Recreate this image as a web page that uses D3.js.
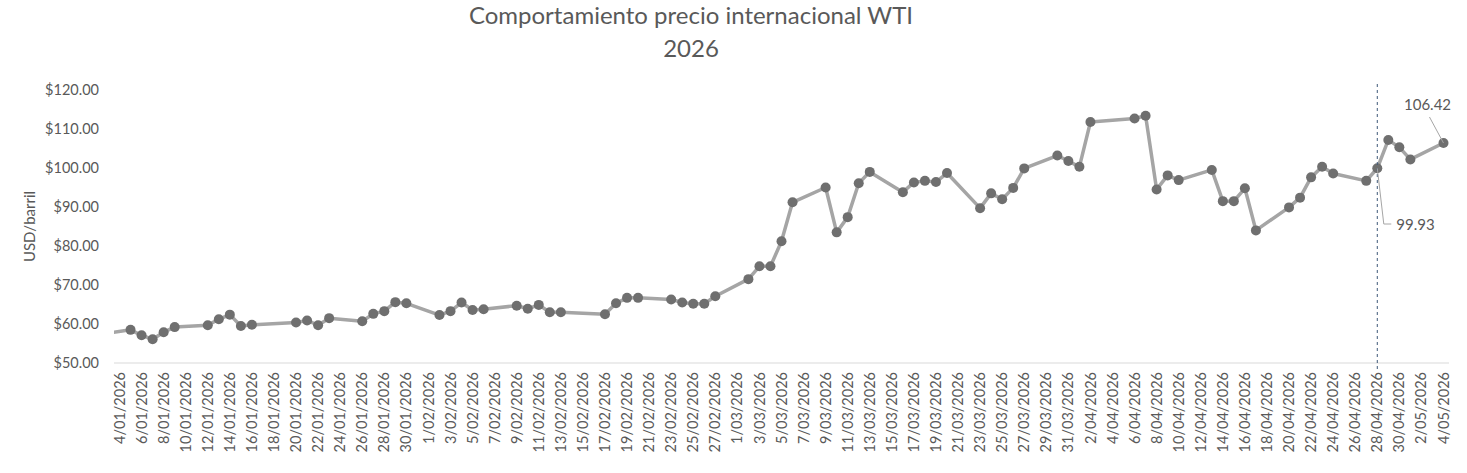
<!DOCTYPE html>
<html>
<head>
<meta charset="utf-8">
<script src="https://cdn.jsdelivr.net/npm/d3@7"></script>
<style>
  html, body { margin: 0; padding: 0; background: #fff; }
  svg text { font-family: Lato, "Open Sans", sans-serif; fill: #595959; }
</style>
</head>
<body>
<svg id="chart" width="1467" height="473"></svg>
<script>
// WTI daily closes (USD/barril), trading days only
const dates = [
  "2026-01-02", "2026-01-05", "2026-01-06", "2026-01-07", "2026-01-08", "2026-01-09",
  "2026-01-12", "2026-01-13", "2026-01-14", "2026-01-15", "2026-01-16",
  "2026-01-20", "2026-01-21", "2026-01-22", "2026-01-23",
  "2026-01-26", "2026-01-27", "2026-01-28", "2026-01-29", "2026-01-30",
  "2026-02-02", "2026-02-03", "2026-02-04", "2026-02-05", "2026-02-06",
  "2026-02-09", "2026-02-10", "2026-02-11", "2026-02-12", "2026-02-13",
  "2026-02-17", "2026-02-18", "2026-02-19", "2026-02-20",
  "2026-02-23", "2026-02-24", "2026-02-25", "2026-02-26", "2026-02-27",
  "2026-03-02", "2026-03-03", "2026-03-04", "2026-03-05", "2026-03-06",
  "2026-03-09", "2026-03-10", "2026-03-11", "2026-03-12", "2026-03-13",
  "2026-03-16", "2026-03-17", "2026-03-18", "2026-03-19", "2026-03-20",
  "2026-03-23", "2026-03-24", "2026-03-25", "2026-03-26", "2026-03-27",
  "2026-03-30", "2026-03-31", "2026-04-01", "2026-04-02",
  "2026-04-06", "2026-04-07", "2026-04-08", "2026-04-09", "2026-04-10",
  "2026-04-13", "2026-04-14", "2026-04-15", "2026-04-16", "2026-04-17",
  "2026-04-20", "2026-04-21", "2026-04-22", "2026-04-23", "2026-04-24",
  "2026-04-27", "2026-04-28", "2026-04-29", "2026-04-30", "2026-05-01",
  "2026-05-04"
];
const prices = [
  57.3, 58.5, 57.1, 56.1, 57.9, 59.2,
  59.7, 61.2, 62.4, 59.5, 59.8,
  60.4, 60.9, 59.7, 61.5,
  60.7, 62.6, 63.3, 65.6, 65.3,
  62.3, 63.3, 65.5, 63.6, 63.8,
  64.7, 63.9, 64.9, 63.0, 63.0,
  62.5, 65.3, 66.7, 66.7,
  66.3, 65.5, 65.2, 65.2, 67.1,
  71.5, 74.8, 74.8, 81.2, 91.2,
  95.0, 83.5, 87.4, 96.1, 99.0,
  93.8, 96.3, 96.7, 96.4, 98.7,
  89.7, 93.5, 92.0, 94.9, 99.9,
  103.2, 101.8, 100.3, 111.8,
  112.7, 113.4, 94.5, 98.1, 96.9,
  99.5, 91.5, 91.5, 94.8, 84.0,
  89.9, 92.4, 97.6, 100.3, 98.6,
  96.7, 99.93, 107.2, 105.3, 102.2,
  106.42
];
const yTicks = [50, 60, 70, 80, 90, 100, 110, 120];
const axisStart = "2026-01-04";
const axisEnd = "2026-05-04";
const markerDate = "2026-04-28";
const labelled = [
  { date: "2026-04-28", text: "99.93" },
  { date: "2026-05-04", text: "106.42" }
];

const parse = d3.utcParse("%Y-%m-%d");
const fmtDate = d3.utcFormat("%-d/%m/%Y");
const fmtY = d3.format("$.2f");

const series = dates.map((d, i) => ({ date: parse(d), value: prices[i] }));
const t0 = parse(axisStart), t1 = parse(axisEnd);

const plotL = 114, plotR = 1449, plotT = 90, plotB = 363;

const svg = d3.select("#chart");

const x = d3.scaleUtc()
  .domain([d3.utcHour.offset(t0, -12), d3.utcHour.offset(t1, 12)])
  .range([plotL, plotR]);
const y = d3.scaleLinear().domain([50, 120]).range([plotB, plotT]);

// title
svg.append("text").attr("x", 691).attr("y", 24).attr("text-anchor", "middle")
  .style("font-size", "24px").text("Comportamiento precio internacional WTI");
svg.append("text").attr("x", 691).attr("y", 57).attr("text-anchor", "middle")
  .style("font-size", "24px").text("2026");

// y axis title
svg.append("text")
  .attr("transform", "translate(35," + ((plotT + plotB) / 2) + ") rotate(-90)")
  .attr("text-anchor", "middle")
  .style("font-size", "15px")
  .text("USD/barril");

// y tick labels
svg.append("g").selectAll("text").data(yTicks).join("text")
  .attr("x", 99).attr("y", d => y(d)).attr("dy", "0.35em")
  .attr("text-anchor", "end").style("font-size", "14.5px")
  .text(d => fmtY(d));

// x axis line
svg.append("line")
  .attr("x1", plotL).attr("x2", plotR).attr("y1", plotB).attr("y2", plotB)
  .attr("stroke", "#d9d9d9").attr("stroke-width", 1);

// x tick labels, every two days
const xTicks = d3.utcDay.range(t0, d3.utcDay.offset(t1, 1), 2);
svg.append("g").selectAll("text").data(xTicks).join("text")
  .attr("transform", d => "translate(" + x(d) + ",372) rotate(-90)")
  .attr("dy", "0.35em").attr("text-anchor", "end")
  .style("font-size", "14.5px")
  .text(d => fmtDate(d));

// clip so the line starts at the plot edge
svg.append("clipPath").attr("id", "plotClip").append("rect")
  .attr("x", plotL).attr("y", 0).attr("width", plotR - plotL).attr("height", 473);

const line = d3.line().x(d => x(d.date)).y(d => y(d.value));

svg.append("path").datum(series)
  .attr("clip-path", "url(#plotClip)")
  .attr("fill", "none").attr("stroke", "#a5a5a5")
  .attr("stroke-width", 3.5).attr("stroke-linejoin", "round")
  .attr("d", line);

svg.append("g").selectAll("circle")
  .data(series.filter(d => d.date >= t0)).join("circle")
  .attr("cx", d => x(d.date)).attr("cy", d => y(d.value))
  .attr("r", 5).attr("fill", "#6f6f6f");

// dashed marker line
const mx = x(parse(markerDate));
svg.append("line")
  .attr("x1", mx).attr("x2", mx).attr("y1", 84).attr("y2", 370)
  .attr("stroke", "#3f5878").attr("stroke-width", 1)
  .attr("stroke-dasharray", "3,3");

// data labels with leader lines
const p1 = series.find(d => +d.date === +parse(labelled[0].date));
const p2 = series.find(d => +d.date === +parse(labelled[1].date));

svg.append("polyline")
  .attr("points", [[x(p1.date), y(p1.value)], [x(p1.date) + 6.5, 224], [x(p1.date) + 14, 224]].join(" "))
  .attr("fill", "none").attr("stroke", "#a6a6a6").attr("stroke-width", 1);
svg.append("text").attr("x", x(p1.date) + 19).attr("y", 225).attr("dy", "0.35em")
  .style("font-size", "15px").text(labelled[0].text);

svg.append("line")
  .attr("x1", x(p2.date)).attr("y1", y(p2.value))
  .attr("x2", x(p2.date) - 14).attr("y2", 117)
  .attr("stroke", "#a6a6a6").attr("stroke-width", 1);
svg.append("text").attr("x", 1404).attr("y", 105).attr("dy", "0.35em")
  .style("font-size", "15px").text(labelled[1].text);
</script>
</body>
</html>
